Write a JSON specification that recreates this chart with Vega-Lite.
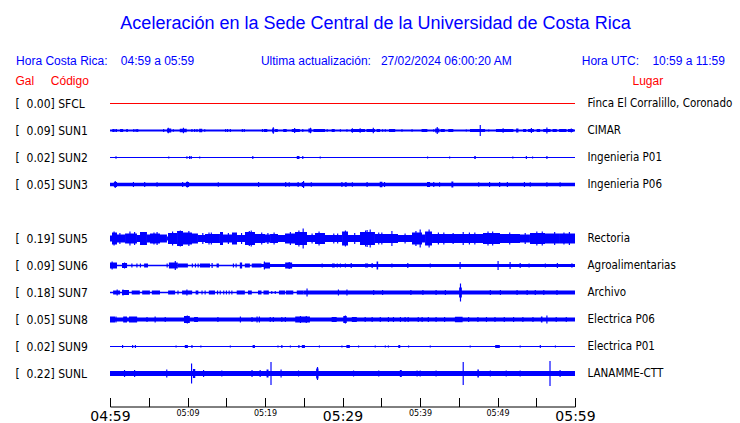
{
  "$schema": "https://vega.github.io/schema/vega-lite/v6.json",
  "autosize": "none",
  "width": 465,
  "height": 297,
  "padding": {"left": 110, "top": 90, "right": 165, "bottom": 36},
  "background": "white",
  "title": {
    "text": "Aceleración en la Sede Central de la Universidad de Costa Rica",
    "anchor": "middle",
    "frame": "group",
    "dx": 33,
    "offset": 21,
    "font": "Liberation Sans",
    "fontSize": 18,
    "fontWeight": "normal",
    "color": "#0000ff"
  },
  "datasets": {
    "w": [
      {"s":"SFCL","t0":0,"t1":60,"a":1},
      {"s":"SUN1","t0":0,"t1":60,"a":2},
      {"s":"SUN1","t0":0.3,"t1":0.6,"a":3},{"s":"SUN1","t0":0.7,"t1":0.9,"a":3},{"s":"SUN1","t0":1.3,"t1":1.7,"a":3},{"s":"SUN1","t0":2.1,"t1":2.3,"a":3},
      {"s":"SUN1","t0":3.0,"t1":3.15,"a":3},{"s":"SUN1","t0":3.3,"t1":3.45,"a":3},{"s":"SUN1","t0":3.5,"t1":3.65,"a":3},{"s":"SUN1","t0":6.85,"t1":7.0,"a":3},
      {"s":"SUN1","t0":7.35,"t1":7.9,"a":4},{"s":"SUN1","t0":7.45,"t1":7.6,"a":5.5},{"s":"SUN1","t0":8.1,"t1":8.25,"a":2.5},{"s":"SUN1","t0":9.0,"t1":9.9,"a":3.5},
      {"s":"SUN1","t0":9.4,"t1":9.55,"a":5.5},{"s":"SUN1","t0":10.5,"t1":10.65,"a":3},{"s":"SUN1","t0":10.85,"t1":11.0,"a":3},{"s":"SUN1","t0":11.15,"t1":11.3,"a":3},
      {"s":"SUN1","t0":11.5,"t1":11.9,"a":3.5},{"s":"SUN1","t0":12.15,"t1":12.3,"a":2.5},{"s":"SUN1","t0":14.85,"t1":15.0,"a":3},{"s":"SUN1","t0":15.1,"t1":15.25,"a":3},
      {"s":"SUN1","t0":15.45,"t1":15.6,"a":3},{"s":"SUN1","t0":17.0,"t1":17.15,"a":3},{"s":"SUN1","t0":17.25,"t1":17.4,"a":3},{"s":"SUN1","t0":19.6,"t1":19.75,"a":3},
      {"s":"SUN1","t0":19.85,"t1":20.3,"a":3},{"s":"SUN1","t0":20.9,"t1":21.2,"a":4},{"s":"SUN1","t0":21.0,"t1":21.15,"a":6.5},{"s":"SUN1","t0":21.3,"t1":21.65,"a":3},
      {"s":"SUN1","t0":22.35,"t1":22.8,"a":3},{"s":"SUN1","t0":23.45,"t1":24.5,"a":3},{"s":"SUN1","t0":23.75,"t1":23.9,"a":5},{"s":"SUN1","t0":24.8,"t1":24.95,"a":3},
      {"s":"SUN1","t0":25.6,"t1":26.0,"a":4},{"s":"SUN1","t0":25.8,"t1":25.95,"a":5.5},{"s":"SUN1","t0":26.25,"t1":27.75,"a":3},{"s":"SUN1","t0":27.95,"t1":28.1,"a":2.5},
      {"s":"SUN1","t0":28.6,"t1":29.0,"a":3},{"s":"SUN1","t0":29.65,"t1":29.8,"a":2.5},{"s":"SUN1","t0":30.5,"t1":30.65,"a":2.5},{"s":"SUN1","t0":31.1,"t1":32.9,"a":3},
      {"s":"SUN1","t0":31.2,"t1":31.35,"a":4.5},{"s":"SUN1","t0":32.2,"t1":32.35,"a":4.5},{"s":"SUN1","t0":33.1,"t1":34.2,"a":3},{"s":"SUN1","t0":33.9,"t1":34.05,"a":5.5},
      {"s":"SUN1","t0":34.4,"t1":34.85,"a":3},{"s":"SUN1","t0":35.1,"t1":35.25,"a":2.5},{"s":"SUN1","t0":35.45,"t1":35.6,"a":2.5},{"s":"SUN1","t0":36.0,"t1":36.8,"a":3},
      {"s":"SUN1","t0":37.6,"t1":37.75,"a":2.5},{"s":"SUN1","t0":38.9,"t1":39.05,"a":2.5},{"s":"SUN1","t0":40.2,"t1":40.95,"a":3},{"s":"SUN1","t0":41.7,"t1":41.85,"a":2.5},
      {"s":"SUN1","t0":41.95,"t1":42.5,"a":4},{"s":"SUN1","t0":42.15,"t1":42.3,"a":7},{"s":"SUN1","t0":42.65,"t1":43.2,"a":3},{"s":"SUN1","t0":43.65,"t1":44.3,"a":3},
      {"s":"SUN1","t0":45.9,"t1":46.05,"a":2},{"s":"SUN1","t0":46.45,"t1":48.4,"a":3},{"s":"SUN1","t0":47.7,"t1":47.85,"a":11},{"s":"SUN1","t0":48.8,"t1":48.95,"a":2},
      {"s":"SUN1","t0":49.8,"t1":52.05,"a":3},{"s":"SUN1","t0":50.65,"t1":50.8,"a":4.5},{"s":"SUN1","t0":52.4,"t1":52.7,"a":4},{"s":"SUN1","t0":53.3,"t1":53.7,"a":3},
      {"s":"SUN1","t0":53.95,"t1":54.7,"a":3},{"s":"SUN1","t0":54.3,"t1":54.45,"a":5},{"s":"SUN1","t0":55.05,"t1":55.5,"a":3},{"s":"SUN1","t0":55.9,"t1":56.85,"a":3},
      {"s":"SUN1","t0":56.3,"t1":56.45,"a":6},{"s":"SUN1","t0":57.1,"t1":57.65,"a":3},{"s":"SUN1","t0":57.95,"t1":58.9,"a":3},{"s":"SUN1","t0":59.1,"t1":59.8,"a":3},
      {"s":"SUN1","t0":59.45,"t1":59.6,"a":4},
      {"s":"SUN2","t0":0,"t1":60,"a":1},
      {"s":"SUN2","t0":0.7,"t1":0.85,"a":2.5},{"s":"SUN2","t0":7.5,"t1":7.65,"a":2},{"s":"SUN2","t0":9.85,"t1":10.0,"a":2.5},{"s":"SUN2","t0":10.2,"t1":10.35,"a":3},
      {"s":"SUN2","t0":10.4,"t1":10.55,"a":3},{"s":"SUN2","t0":11.5,"t1":11.65,"a":2},{"s":"SUN2","t0":18.35,"t1":18.5,"a":3},{"s":"SUN2","t0":24.1,"t1":24.45,"a":3},
      {"s":"SUN2","t0":24.8,"t1":24.95,"a":3},{"s":"SUN2","t0":27.05,"t1":27.2,"a":2},{"s":"SUN2","t0":40.9,"t1":41.05,"a":2},{"s":"SUN2","t0":43.75,"t1":43.9,"a":2},
      {"s":"SUN2","t0":47.0,"t1":47.2,"a":3},{"s":"SUN2","t0":51.9,"t1":52.05,"a":2},{"s":"SUN2","t0":53.65,"t1":53.8,"a":3},{"s":"SUN2","t0":54.45,"t1":54.6,"a":2},
      {"s":"SUN2","t0":56.3,"t1":56.45,"a":3},
      {"s":"SUN3","t0":0,"t1":60,"a":3.5},
      {"s":"SUN3","t0":0.5,"t1":0.9,"a":5},{"s":"SUN3","t0":0.6,"t1":0.75,"a":7},{"s":"SUN3","t0":2.95,"t1":3.1,"a":5},{"s":"SUN3","t0":4.4,"t1":4.55,"a":5},
      {"s":"SUN3","t0":6.0,"t1":6.15,"a":4.5},{"s":"SUN3","t0":9.3,"t1":9.45,"a":5},{"s":"SUN3","t0":9.8,"t1":10.2,"a":5},{"s":"SUN3","t0":9.9,"t1":10.05,"a":6},
      {"s":"SUN3","t0":13.9,"t1":14.05,"a":4.5},{"s":"SUN3","t0":19.1,"t1":19.25,"a":5},{"s":"SUN3","t0":22.6,"t1":22.75,"a":5},{"s":"SUN3","t0":23.05,"t1":23.2,"a":4.5},
      {"s":"SUN3","t0":24.2,"t1":24.35,"a":5},{"s":"SUN3","t0":24.75,"t1":25.05,"a":5},{"s":"SUN3","t0":24.9,"t1":25.05,"a":7},{"s":"SUN3","t0":25.9,"t1":26.05,"a":4.5},
      {"s":"SUN3","t0":29.85,"t1":30.0,"a":5},{"s":"SUN3","t0":30.3,"t1":30.55,"a":4.5},{"s":"SUN3","t0":31.2,"t1":31.35,"a":4.5},{"s":"SUN3","t0":33.1,"t1":33.25,"a":5},
      {"s":"SUN3","t0":34.8,"t1":35.15,"a":5.5},{"s":"SUN3","t0":35.35,"t1":35.5,"a":5},{"s":"SUN3","t0":40.9,"t1":41.3,"a":5},{"s":"SUN3","t0":41.7,"t1":41.85,"a":5},
      {"s":"SUN3","t0":42.45,"t1":42.6,"a":4.5},{"s":"SUN3","t0":44.05,"t1":44.3,"a":6},{"s":"SUN3","t0":47.5,"t1":47.65,"a":4.5},{"s":"SUN3","t0":48.9,"t1":49.05,"a":5},
      {"s":"SUN3","t0":50.2,"t1":50.35,"a":5},{"s":"SUN3","t0":51.2,"t1":51.35,"a":5},{"s":"SUN3","t0":53.4,"t1":53.55,"a":5},{"s":"SUN3","t0":54.15,"t1":54.3,"a":4.5},
      {"s":"SUN3","t0":56.3,"t1":56.45,"a":4.5},{"s":"SUN3","t0":58.0,"t1":58.15,"a":4.5},
      {"s":"SUN5","t0":0,"t1":0.26,"a":6},{"s":"SUN5","t0":0.26,"t1":0.9,"a":12},{"s":"SUN5","t0":0.45,"t1":0.6,"a":14},{"s":"SUN5","t0":0.9,"t1":1.94,"a":8},
      {"s":"SUN5","t0":1.94,"t1":3.48,"a":10},{"s":"SUN5","t0":2.5,"t1":2.65,"a":14},{"s":"SUN5","t0":3.48,"t1":3.87,"a":7},{"s":"SUN5","t0":3.87,"t1":4.77,"a":13},
      {"s":"SUN5","t0":4.77,"t1":5.16,"a":8},{"s":"SUN5","t0":5.16,"t1":6.45,"a":10},{"s":"SUN5","t0":6.0,"t1":6.15,"a":13},{"s":"SUN5","t0":6.45,"t1":7.35,"a":8},
      {"s":"SUN5","t0":7.35,"t1":7.48,"a":4},{"s":"SUN5","t0":7.48,"t1":8.65,"a":11},{"s":"SUN5","t0":8.65,"t1":9.42,"a":15},{"s":"SUN5","t0":9.0,"t1":9.15,"a":16},
      {"s":"SUN5","t0":9.42,"t1":10.58,"a":12},{"s":"SUN5","t0":10.58,"t1":11.35,"a":10},{"s":"SUN5","t0":11.35,"t1":12.26,"a":7},{"s":"SUN5","t0":11.9,"t1":12.05,"a":11},
      {"s":"SUN5","t0":12.26,"t1":14.19,"a":9},{"s":"SUN5","t0":13.0,"t1":13.15,"a":12},{"s":"SUN5","t0":14.19,"t1":14.58,"a":13},{"s":"SUN5","t0":14.58,"t1":15.74,"a":8},
      {"s":"SUN5","t0":15.74,"t1":16.39,"a":12},{"s":"SUN5","t0":16.39,"t1":17.42,"a":7},{"s":"SUN5","t0":16.9,"t1":17.05,"a":11},{"s":"SUN5","t0":17.42,"t1":18.71,"a":13},
      {"s":"SUN5","t0":18.15,"t1":18.3,"a":16},{"s":"SUN5","t0":18.71,"t1":20.0,"a":9},{"s":"SUN5","t0":19.5,"t1":19.65,"a":12},{"s":"SUN5","t0":20.0,"t1":20.65,"a":8},
      {"s":"SUN5","t0":20.65,"t1":21.68,"a":9},{"s":"SUN5","t0":21.1,"t1":21.25,"a":12},{"s":"SUN5","t0":21.68,"t1":22.58,"a":7},{"s":"SUN5","t0":22.58,"t1":23.87,"a":10},
      {"s":"SUN5","t0":23.87,"t1":25.42,"a":13},{"s":"SUN5","t0":24.85,"t1":25.0,"a":20},{"s":"SUN5","t0":25.42,"t1":26.45,"a":7},{"s":"SUN5","t0":26.45,"t1":27.74,"a":11},
      {"s":"SUN5","t0":26.9,"t1":27.05,"a":14},{"s":"SUN5","t0":27.74,"t1":29.94,"a":7},{"s":"SUN5","t0":28.8,"t1":28.95,"a":10},{"s":"SUN5","t0":29.94,"t1":30.71,"a":14},
      {"s":"SUN5","t0":30.3,"t1":30.45,"a":16},{"s":"SUN5","t0":30.71,"t1":32.26,"a":7},{"s":"SUN5","t0":31.5,"t1":31.65,"a":11},{"s":"SUN5","t0":32.26,"t1":34.19,"a":13},
      {"s":"SUN5","t0":32.9,"t1":33.05,"a":16},{"s":"SUN5","t0":33.5,"t1":33.65,"a":18},{"s":"SUN5","t0":34.19,"t1":36.39,"a":9},{"s":"SUN5","t0":35.0,"t1":35.15,"a":12},
      {"s":"SUN5","t0":36.3,"t1":36.45,"a":15},{"s":"SUN5","t0":36.39,"t1":37.16,"a":9},{"s":"SUN5","t0":37.16,"t1":38.97,"a":7},{"s":"SUN5","t0":38.0,"t1":38.15,"a":10},
      {"s":"SUN5","t0":38.97,"t1":40.26,"a":12},{"s":"SUN5","t0":39.95,"t1":40.1,"a":18},{"s":"SUN5","t0":40.26,"t1":40.65,"a":8},{"s":"SUN5","t0":40.65,"t1":41.55,"a":14},
      {"s":"SUN5","t0":41.1,"t1":41.25,"a":18},{"s":"SUN5","t0":41.55,"t1":48.13,"a":9},{"s":"SUN5","t0":43.0,"t1":43.15,"a":12},{"s":"SUN5","t0":45.5,"t1":45.65,"a":13},
      {"s":"SUN5","t0":47.0,"t1":47.15,"a":12},{"s":"SUN5","t0":48.13,"t1":50.32,"a":11},{"s":"SUN5","t0":49.3,"t1":49.45,"a":14},{"s":"SUN5","t0":50.32,"t1":52.9,"a":9},
      {"s":"SUN5","t0":51.5,"t1":51.65,"a":12},{"s":"SUN5","t0":52.9,"t1":54.19,"a":8},{"s":"SUN5","t0":54.19,"t1":56.13,"a":11},{"s":"SUN5","t0":55.0,"t1":55.15,"a":14},
      {"s":"SUN5","t0":56.13,"t1":58.06,"a":10},{"s":"SUN5","t0":57.3,"t1":57.45,"a":13},{"s":"SUN5","t0":58.06,"t1":60,"a":10},{"s":"SUN5","t0":59.2,"t1":59.35,"a":13},
      {"s":"SUN5","t0":1.2,"t1":1.35,"a":11},{"s":"SUN5","t0":3.1,"t1":3.25,"a":13},{"s":"SUN5","t0":5.6,"t1":5.75,"a":12},{"s":"SUN5","t0":8.0,"t1":8.15,"a":14},
      {"s":"SUN5","t0":10.1,"t1":10.25,"a":15},{"s":"SUN5","t0":12.7,"t1":12.85,"a":12},{"s":"SUN5","t0":15.2,"t1":15.35,"a":11},{"s":"SUN5","t0":17.9,"t1":18.05,"a":15},
      {"s":"SUN5","t0":20.3,"t1":20.45,"a":11},{"s":"SUN5","t0":23.2,"t1":23.35,"a":13},{"s":"SUN5","t0":24.3,"t1":24.45,"a":16},{"s":"SUN5","t0":26.0,"t1":26.15,"a":10},
      {"s":"SUN5","t0":29.3,"t1":29.45,"a":10},{"s":"SUN5","t0":33.1,"t1":33.25,"a":17},{"s":"SUN5","t0":34.6,"t1":34.75,"a":12},{"s":"SUN5","t0":39.4,"t1":39.55,"a":15},
      {"s":"SUN5","t0":42.3,"t1":42.45,"a":12},{"s":"SUN5","t0":44.2,"t1":44.35,"a":11},{"s":"SUN5","t0":46.3,"t1":46.45,"a":12},{"s":"SUN5","t0":48.7,"t1":48.85,"a":14},
      {"s":"SUN5","t0":53.5,"t1":53.65,"a":11},{"s":"SUN5","t0":55.7,"t1":55.85,"a":14},{"s":"SUN5","t0":58.5,"t1":58.65,"a":12},
      {"s":"SUN6","t0":0,"t1":18.3,"a":1.5},{"s":"SUN6","t0":18.3,"t1":60,"a":3},
      {"s":"SUN6","t0":0,"t1":0.9,"a":6},{"s":"SUN6","t0":0.2,"t1":0.35,"a":8},{"s":"SUN6","t0":1.55,"t1":2.2,"a":5},{"s":"SUN6","t0":1.8,"t1":1.95,"a":6},
      {"s":"SUN6","t0":2.75,"t1":2.9,"a":4},{"s":"SUN6","t0":3.4,"t1":3.55,"a":4},{"s":"SUN6","t0":3.85,"t1":4.0,"a":4},{"s":"SUN6","t0":4.4,"t1":4.9,"a":4},
      {"s":"SUN6","t0":7.3,"t1":7.45,"a":4},{"s":"SUN6","t0":7.6,"t1":8.75,"a":6},{"s":"SUN6","t0":8.35,"t1":8.5,"a":9},{"s":"SUN6","t0":8.75,"t1":10.05,"a":4},
      {"s":"SUN6","t0":10.55,"t1":10.7,"a":4},{"s":"SUN6","t0":10.95,"t1":11.1,"a":4},{"s":"SUN6","t0":11.3,"t1":11.45,"a":4},{"s":"SUN6","t0":11.6,"t1":12.9,"a":4},
      {"s":"SUN6","t0":13.1,"t1":13.25,"a":5},{"s":"SUN6","t0":13.75,"t1":14.05,"a":4},{"s":"SUN6","t0":15.85,"t1":16.0,"a":4},{"s":"SUN6","t0":16.2,"t1":16.35,"a":4},
      {"s":"SUN6","t0":16.75,"t1":17.05,"a":6},{"s":"SUN6","t0":17.4,"t1":18.05,"a":4},{"s":"SUN6","t0":18.3,"t1":19.55,"a":4},{"s":"SUN6","t0":19.85,"t1":20.65,"a":6},
      {"s":"SUN6","t0":19.85,"t1":20.0,"a":8},{"s":"SUN6","t0":22.6,"t1":23.5,"a":6},{"s":"SUN6","t0":23.05,"t1":23.2,"a":7},{"s":"SUN6","t0":27.3,"t1":27.45,"a":4},
      {"s":"SUN6","t0":28.65,"t1":29.0,"a":4},{"s":"SUN6","t0":29.25,"t1":29.4,"a":4},{"s":"SUN6","t0":29.65,"t1":29.8,"a":4},{"s":"SUN6","t0":30.3,"t1":30.45,"a":4},
      {"s":"SUN6","t0":31.05,"t1":31.2,"a":5},{"s":"SUN6","t0":32.9,"t1":33.3,"a":4},{"s":"SUN6","t0":33.75,"t1":33.9,"a":5},{"s":"SUN6","t0":34.4,"t1":34.6,"a":8},
      {"s":"SUN6","t0":36.3,"t1":36.45,"a":4},{"s":"SUN6","t0":38.35,"t1":38.5,"a":5},{"s":"SUN6","t0":41.25,"t1":41.4,"a":4},{"s":"SUN6","t0":45.1,"t1":45.25,"a":7},
      {"s":"SUN6","t0":50.0,"t1":50.15,"a":9},{"s":"SUN6","t0":51.55,"t1":51.7,"a":7},{"s":"SUN6","t0":52.85,"t1":53.0,"a":5},{"s":"SUN6","t0":54.0,"t1":54.15,"a":4},
      {"s":"SUN6","t0":56.1,"t1":56.25,"a":4},{"s":"SUN6","t0":57.65,"t1":57.8,"a":5},{"s":"SUN6","t0":59.5,"t1":59.7,"a":4},
      {"s":"SUN7","t0":0,"t1":25.8,"a":1.5},{"s":"SUN7","t0":25.8,"t1":60,"a":4},
      {"s":"SUN7","t0":0.4,"t1":1.3,"a":4},{"s":"SUN7","t0":0.85,"t1":1.0,"a":6},{"s":"SUN7","t0":1.55,"t1":2.45,"a":5},{"s":"SUN7","t0":1.6,"t1":1.75,"a":6},
      {"s":"SUN7","t0":2.8,"t1":3.85,"a":4},{"s":"SUN7","t0":4.15,"t1":5.15,"a":4},{"s":"SUN7","t0":5.4,"t1":6.45,"a":4},{"s":"SUN7","t0":7.5,"t1":8.4,"a":4},
      {"s":"SUN7","t0":8.7,"t1":8.85,"a":4},{"s":"SUN7","t0":9.3,"t1":10.6,"a":4},{"s":"SUN7","t0":9.85,"t1":10.0,"a":6},{"s":"SUN7","t0":11.05,"t1":11.4,"a":4},
      {"s":"SUN7","t0":11.8,"t1":11.95,"a":4},{"s":"SUN7","t0":12.2,"t1":12.35,"a":4},{"s":"SUN7","t0":12.75,"t1":13.55,"a":4},{"s":"SUN7","t0":13.8,"t1":13.95,"a":4},
      {"s":"SUN7","t0":14.15,"t1":14.3,"a":4},{"s":"SUN7","t0":14.6,"t1":14.75,"a":4},{"s":"SUN7","t0":14.95,"t1":15.1,"a":4},{"s":"SUN7","t0":15.3,"t1":15.45,"a":4},
      {"s":"SUN7","t0":15.65,"t1":15.8,"a":4},{"s":"SUN7","t0":16.35,"t1":17.4,"a":4},{"s":"SUN7","t0":17.8,"t1":18.3,"a":4},{"s":"SUN7","t0":19.1,"t1":19.55,"a":4},
      {"s":"SUN7","t0":19.8,"t1":20.5,"a":4},{"s":"SUN7","t0":20.8,"t1":20.95,"a":3},{"s":"SUN7","t0":21.25,"t1":21.4,"a":3},{"s":"SUN7","t0":21.8,"t1":22.6,"a":4},
      {"s":"SUN7","t0":22.7,"t1":23.65,"a":4},{"s":"SUN7","t0":24.1,"t1":24.95,"a":4},{"s":"SUN7","t0":24.95,"t1":25.8,"a":4},{"s":"SUN7","t0":25.35,"t1":25.5,"a":8},
      {"s":"SUN7","t0":29.4,"t1":29.55,"a":6},{"s":"SUN7","t0":30.5,"t1":30.65,"a":6},{"s":"SUN7","t0":33.95,"t1":34.1,"a":5},{"s":"SUN7","t0":35.1,"t1":35.25,"a":5},
      {"s":"SUN7","t0":38.75,"t1":38.9,"a":5},{"s":"SUN7","t0":40.3,"t1":40.45,"a":5},{"s":"SUN7","t0":42.0,"t1":42.15,"a":5},{"s":"SUN7","t0":43.2,"t1":43.35,"a":5},
      {"s":"SUN7","t0":45.05,"t1":45.4,"a":10},{"s":"SUN7","t0":45.15,"t1":45.3,"a":18},{"s":"SUN7","t0":49.0,"t1":49.15,"a":5},{"s":"SUN7","t0":50.3,"t1":50.45,"a":5},
      {"s":"SUN7","t0":52.45,"t1":52.6,"a":5},{"s":"SUN7","t0":53.75,"t1":53.9,"a":5},{"s":"SUN7","t0":54.8,"t1":54.95,"a":5},{"s":"SUN7","t0":55.9,"t1":56.05,"a":5},
      {"s":"SUN7","t0":57.6,"t1":57.75,"a":5},
      {"s":"SUN8","t0":0,"t1":60,"a":4},
      {"s":"SUN8","t0":0,"t1":0.65,"a":6},{"s":"SUN8","t0":0.7,"t1":0.85,"a":6},{"s":"SUN8","t0":1.7,"t1":2.2,"a":6},{"s":"SUN8","t0":2.45,"t1":3.5,"a":6},
      {"s":"SUN8","t0":4.7,"t1":4.85,"a":5},{"s":"SUN8","t0":5.75,"t1":5.9,"a":6},{"s":"SUN8","t0":7.05,"t1":7.2,"a":5},{"s":"SUN8","t0":9.55,"t1":10.3,"a":7},
      {"s":"SUN8","t0":9.9,"t1":10.05,"a":8},{"s":"SUN8","t0":10.85,"t1":11.35,"a":5},{"s":"SUN8","t0":13.85,"t1":14.0,"a":5},{"s":"SUN8","t0":16.75,"t1":16.9,"a":6},
      {"s":"SUN8","t0":18.25,"t1":18.4,"a":5},{"s":"SUN8","t0":18.9,"t1":19.05,"a":6},{"s":"SUN8","t0":19.2,"t1":19.35,"a":6},{"s":"SUN8","t0":20.6,"t1":20.75,"a":5},
      {"s":"SUN8","t0":21.0,"t1":21.15,"a":5},{"s":"SUN8","t0":22.1,"t1":22.25,"a":5},{"s":"SUN8","t0":22.55,"t1":22.7,"a":5},{"s":"SUN8","t0":23.9,"t1":25.8,"a":6},
      {"s":"SUN8","t0":24.5,"t1":24.65,"a":7},{"s":"SUN8","t0":25.25,"t1":25.4,"a":7},{"s":"SUN8","t0":28.6,"t1":29.25,"a":5},{"s":"SUN8","t0":30.1,"t1":30.55,"a":7},
      {"s":"SUN8","t0":30.3,"t1":30.45,"a":8},{"s":"SUN8","t0":31.2,"t1":31.85,"a":5},{"s":"SUN8","t0":32.85,"t1":33.0,"a":5},{"s":"SUN8","t0":33.75,"t1":33.9,"a":5},
      {"s":"SUN8","t0":34.8,"t1":34.95,"a":5},{"s":"SUN8","t0":35.85,"t1":36.0,"a":5},{"s":"SUN8","t0":36.5,"t1":36.65,"a":5},{"s":"SUN8","t0":37.4,"t1":37.55,"a":5},
      {"s":"SUN8","t0":38.0,"t1":38.15,"a":5},{"s":"SUN8","t0":38.4,"t1":38.55,"a":5},{"s":"SUN8","t0":39.7,"t1":39.85,"a":5},{"s":"SUN8","t0":40.2,"t1":40.35,"a":5},
      {"s":"SUN8","t0":41.0,"t1":41.15,"a":5},{"s":"SUN8","t0":42.0,"t1":42.15,"a":5},{"s":"SUN8","t0":43.1,"t1":43.25,"a":5},{"s":"SUN8","t0":44.5,"t1":45.5,"a":5.5},
      {"s":"SUN8","t0":46.2,"t1":46.35,"a":5},{"s":"SUN8","t0":47.4,"t1":47.55,"a":5},{"s":"SUN8","t0":48.5,"t1":48.65,"a":5},{"s":"SUN8","t0":49.6,"t1":49.75,"a":5},
      {"s":"SUN8","t0":50.8,"t1":50.95,"a":5},{"s":"SUN8","t0":52.0,"t1":52.15,"a":5},{"s":"SUN8","t0":53.2,"t1":53.35,"a":5},{"s":"SUN8","t0":54.5,"t1":54.65,"a":5},
      {"s":"SUN8","t0":55.6,"t1":55.8,"a":6},{"s":"SUN8","t0":56.3,"t1":56.45,"a":8},{"s":"SUN8","t0":57.5,"t1":57.65,"a":5},{"s":"SUN8","t0":58.8,"t1":58.95,"a":5},
      {"s":"SUN9","t0":0,"t1":60,"a":1},
      {"s":"SUN9","t0":1.55,"t1":1.7,"a":3},{"s":"SUN9","t0":2.85,"t1":3.0,"a":3},{"s":"SUN9","t0":3.2,"t1":3.35,"a":3},{"s":"SUN9","t0":8.45,"t1":8.6,"a":2},
      {"s":"SUN9","t0":9.65,"t1":10.05,"a":3},{"s":"SUN9","t0":10.5,"t1":10.65,"a":3},{"s":"SUN9","t0":11.65,"t1":11.8,"a":2},{"s":"SUN9","t0":15.45,"t1":15.6,"a":2},
      {"s":"SUN9","t0":18.4,"t1":18.7,"a":3},{"s":"SUN9","t0":21.6,"t1":21.75,"a":2},{"s":"SUN9","t0":22.1,"t1":22.25,"a":3},{"s":"SUN9","t0":23.2,"t1":23.35,"a":2},
      {"s":"SUN9","t0":24.3,"t1":24.45,"a":3},{"s":"SUN9","t0":24.75,"t1":25.15,"a":3},{"s":"SUN9","t0":26.95,"t1":27.1,"a":2},{"s":"SUN9","t0":29.85,"t1":30.0,"a":2},
      {"s":"SUN9","t0":30.5,"t1":30.95,"a":3},{"s":"SUN9","t0":32.0,"t1":32.15,"a":2},{"s":"SUN9","t0":34.15,"t1":34.3,"a":2},{"s":"SUN9","t0":35.45,"t1":35.6,"a":2},
      {"s":"SUN9","t0":35.85,"t1":36.0,"a":2},{"s":"SUN9","t0":37.2,"t1":37.45,"a":3},{"s":"SUN9","t0":38.45,"t1":38.6,"a":2},{"s":"SUN9","t0":41.25,"t1":41.4,"a":2},
      {"s":"SUN9","t0":46.4,"t1":46.55,"a":2},{"s":"SUN9","t0":49.7,"t1":50.3,"a":3},{"s":"SUN9","t0":52.85,"t1":53.0,"a":2},{"s":"SUN9","t0":55.45,"t1":55.6,"a":3},
      {"s":"SUN9","t0":57.4,"t1":57.55,"a":2},
      {"s":"SUNL","t0":0,"t1":60,"a":5},
      {"s":"SUNL","t0":1.8,"t1":1.95,"a":7},{"s":"SUNL","t0":3.1,"t1":3.25,"a":7},{"s":"SUNL","t0":7.25,"t1":7.4,"a":8},{"s":"SUNL","t0":10.45,"t1":10.6,"a":20},
      {"s":"SUNL","t0":10.7,"t1":11.0,"a":9},{"s":"SUNL","t0":12.0,"t1":12.15,"a":7},{"s":"SUNL","t0":14.35,"t1":14.5,"a":6},{"s":"SUNL","t0":18.25,"t1":18.4,"a":7},
      {"s":"SUNL","t0":19.3,"t1":19.45,"a":7},{"s":"SUNL","t0":20.2,"t1":20.45,"a":8},{"s":"SUNL","t0":20.7,"t1":20.85,"a":23},{"s":"SUNL","t0":22.0,"t1":22.15,"a":8},
      {"s":"SUNL","t0":24.25,"t1":24.4,"a":6},{"s":"SUNL","t0":26.6,"t1":26.9,"a":10},{"s":"SUNL","t0":26.7,"t1":26.85,"a":13},{"s":"SUNL","t0":31.35,"t1":31.5,"a":6},
      {"s":"SUNL","t0":34.6,"t1":34.75,"a":6},{"s":"SUNL","t0":37.4,"t1":37.65,"a":7},{"s":"SUNL","t0":39.55,"t1":39.7,"a":6},{"s":"SUNL","t0":39.95,"t1":40.1,"a":6},
      {"s":"SUNL","t0":42.0,"t1":42.15,"a":6},{"s":"SUNL","t0":45.5,"t1":45.65,"a":23},{"s":"SUNL","t0":47.4,"t1":47.6,"a":8},{"s":"SUNL","t0":49.0,"t1":49.15,"a":6},
      {"s":"SUNL","t0":51.05,"t1":51.2,"a":6},{"s":"SUNL","t0":52.85,"t1":53.0,"a":6},{"s":"SUNL","t0":56.7,"t1":56.85,"a":25},{"s":"SUNL","t0":58.0,"t1":58.15,"a":7}
    ],
    "st": [
      {"s":"SFCL"},{"s":"SUN1"},{"s":"SUN2"},{"s":"SUN3"},{"s":"SUN5"},{"s":"SUN6"},{"s":"SUN7"},{"s":"SUN8"},{"s":"SUN9"},{"s":"SUNL"}
    ]
  },
  "layer": [
    {
      "data": {"name": "w"},
      "mark": {"type": "bar", "stroke": null},
      "encoding": {
        "x": {
          "field": "t0", "type": "quantitative",
          "scale": {"domain": [0, 60], "nice": false, "zero": false},
          "axis": {
            "title": null,
            "orient": "bottom",
            "offset": 19.5,
            "values": [0,5,10,15,20,25,30,35,40,45,50,55,60],
            "tickSize": -9,
            "tickColor": "black",
            "tickWidth": 1,
            "domain": true,
            "domainColor": "black",
            "domainWidth": 1,
            "labelPadding": 12,
            "labelBaseline": "top",
            "labelFont": "DejaVu Sans",
            "labelColor": "black",
            "labelFlush": false,
            "labelOverlap": false,
            "labelFontSize": {"condition": {"test": "datum.value % 30 === 0", "value": 14}, "value": 8},
            "labelExpr": "datum.value % 10 !== 0 ? '' : (floor((299 + datum.value) / 60) < 10 ? '0' : '') + floor((299 + datum.value) / 60) + ':' + (((299 + datum.value) % 60) < 10 ? '0' : '') + ((299 + datum.value) % 60)"
          }
        },
        "x2": {"field": "t1"},
        "y": {
          "field": "s", "type": "nominal",
          "scale": {"domain": ["SFCL","SUN1","SUN2","SUN3","SUN4","SUN5","SUN6","SUN7","SUN8","SUN9","SUNL"], "paddingInner": 0, "paddingOuter": 0},
          "axis": {
            "orient": "left",
            "title": "Gal\u00a0\u00a0\u00a0\u00a0\u00a0Código",
            "titleAngle": 0,
            "titleAlign": "left",
            "titleBaseline": "middle",
            "titleX": -95,
            "titleY": -10,
            "titleFont": "Liberation Sans",
            "titleFontSize": 12,
            "titleFontWeight": "normal",
            "titleColor": "#ff0000",
            "domain": false,
            "ticks": false,
            "labelAlign": "left",
            "labelPadding": 95,
            "labelFont": "DejaVu Sans Condensed",
            "labelFontSize": 12,
            "labelColor": "black",
            "labelExpr": "{'SFCL':'[\u00a0\u00a00.00] SFCL','SUN1':'[\u00a0\u00a00.09] SUN1','SUN2':'[\u00a0\u00a00.02] SUN2','SUN3':'[\u00a0\u00a00.05] SUN3','SUN5':'[\u00a0\u00a00.19] SUN5','SUN6':'[\u00a0\u00a00.09] SUN6','SUN7':'[\u00a0\u00a00.18] SUN7','SUN8':'[\u00a0\u00a00.05] SUN8','SUN9':'[\u00a0\u00a00.02] SUN9','SUNL':'[\u00a0\u00a00.22] SUNL'}[datum.value] || ''"
          }
        },
        "size": {"field": "a", "type": "quantitative", "scale": {"type": "linear", "domain": [0, 30], "range": [0, 30], "zero": true}, "legend": null},
        "color": {"condition": {"test": "datum.s === 'SFCL'", "value": "#ff0000"}, "value": "#0000ff"}
      }
    },
    {
      "data": {"name": "st"},
      "mark": {"type": "rule", "opacity": 0},
      "encoding": {
        "y": {
          "field": "s", "type": "nominal",
          "scale": {"domain": ["SFCL","SUN1","SUN2","SUN3","SUN4","SUN5","SUN6","SUN7","SUN8","SUN9","SUNL"], "paddingInner": 0, "paddingOuter": 0},
          "axis": {
            "orient": "right",
            "title": "Lugar",
            "titleAngle": 0,
            "titleAlign": "left",
            "titleBaseline": "middle",
            "titleX": 57,
            "titleY": -10,
            "titleFont": "Liberation Sans",
            "titleFontSize": 12,
            "titleFontWeight": "normal",
            "titleColor": "#ff0000",
            "domain": false,
            "ticks": false,
            "labelAlign": "left",
            "labelPadding": 12,
            "labelFont": "DejaVu Sans Condensed",
            "labelFontSize": 11.5,
            "labelColor": "black",
            "labelExpr": "{'SFCL':'Finca El Corralillo, Coronado','SUN1':'CIMAR','SUN2':'Ingenieria P01','SUN3':'Ingenieria P06','SUN5':'Rectoria','SUN6':'Agroalimentarias','SUN7':'Archivo','SUN8':'Electrica P06','SUN9':'Electrica P01','SUNL':'LANAMME-CTT'}[datum.value] || ''"
          }
        }
      }
    },
    {
      "data": {"name": "st"},
      "mark": {"type": "rule", "opacity": 0},
      "encoding": {
        "x": {
          "datum": 0, "type": "quantitative",
          "scale": {"domain": [0, 60], "nice": false, "zero": false},
          "axis": {
            "orient": "top",
            "labels": false,
            "ticks": false,
            "domain": false,
            "grid": false,
            "title": "Hora Costa Rica:\u00a0\u00a0\u00a0\u00a004:59 a 05:59\u00a0\u00a0\u00a0\u00a0\u00a0\u00a0\u00a0\u00a0\u00a0\u00a0\u00a0\u00a0\u00a0\u00a0\u00a0\u00a0\u00a0\u00a0\u00a0\u00a0Ultima actualización:\u00a0\u00a0\u00a027/02/2024 06:00:20 AM\u00a0\u00a0\u00a0\u00a0\u00a0\u00a0\u00a0\u00a0\u00a0\u00a0\u00a0\u00a0\u00a0\u00a0\u00a0\u00a0\u00a0\u00a0\u00a0\u00a0\u00a0Hora UTC:\u00a0\u00a0\u00a0\u00a010:59 a 11:59",
            "titleAngle": 0,
            "titleAlign": "left",
            "titleBaseline": "middle",
            "titleX": -94.4,
            "titleY": -30,
            "titleLimit": 1000,
            "titleFont": "Liberation Sans",
            "titleFontSize": 12,
            "titleFontWeight": "normal",
            "titleColor": "#0000ff"
          }
        }
      }
    }
  ],
  "resolve": {"axis": {"x": "independent", "y": "independent"}},
  "config": {"view": {"stroke": null}, "axis": {"grid": false}}
}
